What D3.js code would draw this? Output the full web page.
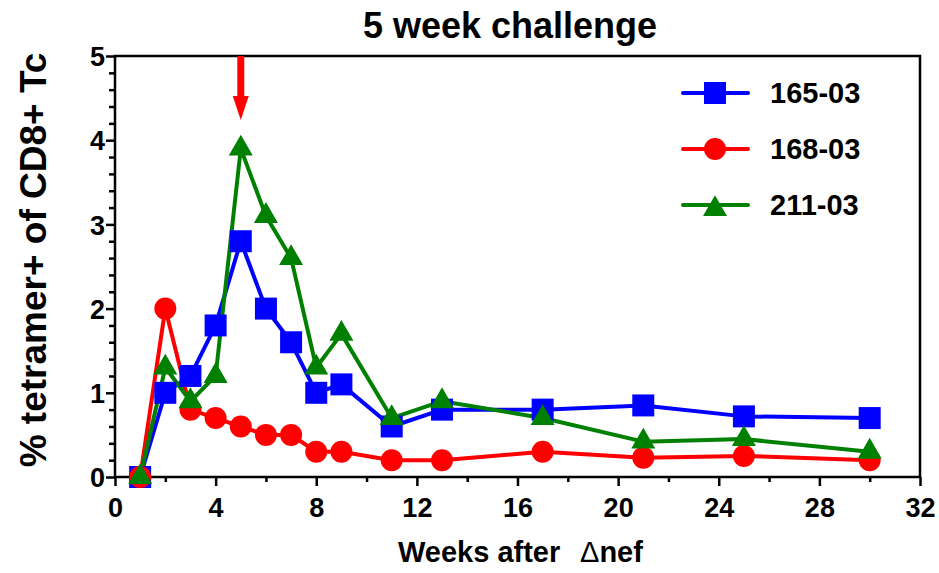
<!DOCTYPE html>
<html><head><meta charset="utf-8">
<script src="https://cdn.jsdelivr.net/npm/d3@7"></script>
<style>body{margin:0;background:#fff}svg{display:block;font-family:"Liberation Sans",Arial,sans-serif;font-weight:bold}</style>
</head><body><svg id="c" width="939" height="573"></svg>
<script>
const weeks = [1,2,3,4,5,6,7,8,9,11,13,17,21,25,30];
const s165 = [0,1.0,1.2,1.8,2.8,2.0,1.6,1.0,1.1,0.6,0.8,0.8,0.85,0.72,0.7];
const s168 = [0,2.0,0.8,0.7,0.6,0.5,0.5,0.3,0.3,0.2,0.2,0.3,0.23,0.25,0.2];
const s211 = [0,1.3,0.9,1.2,3.9,3.1,2.6,1.3,1.7,0.7,0.9,0.7,0.42,0.45,0.3];
const seriesNames = ["165-03","168-03","211-03"];
const seriesColors = ["#0000ff","#ff0000","#008000"];
const seriesSymbols = [d3.symbolSquare, d3.symbolCircle, d3.symbolTriangle];
const xTicks = [0,4,8,12,16,20,24,28,32];
const yTicks = [0,1,2,3,4,5];
const challengeWeek = 5;

const svg = d3.select("#c");
const L=115,R=920,T=56,B=477;
const x = d3.scaleLinear().domain([0,32]).range([L,R]);
const y = d3.scaleLinear().domain([0,5]).range([B,T]);

// frame
svg.append("rect").attr("x",L).attr("y",T).attr("width",R-L).attr("height",B-T)
  .attr("fill","none").attr("stroke","#000").attr("stroke-width",2.5);

// x axis
const xa = svg.append("g").attr("transform",`translate(0,${B})`)
  .call(d3.axisBottom(x).tickValues(d3.range(0,33,2)).tickSize(9)
    .tickFormat(d=>xTicks.includes(d)?d:""));
xa.select(".domain").remove();
xa.selectAll(".tick").each(function(d){
  d3.select(this).select("line").attr("y2",xTicks.includes(d)?9:5);
});
xa.selectAll("line").attr("stroke","#000").attr("stroke-width",2.5);
xa.selectAll("text").attr("font-size",27).attr("font-family","Liberation Sans, Arial").attr("font-weight","bold").attr("dy","0").attr("y",40).attr("fill","#000");

// y axis
const ya = svg.append("g").attr("transform",`translate(${L},0)`)
  .call(d3.axisLeft(y).tickValues(d3.range(0,5.01,0.2).map(v=>Math.round(v*10)/10)).tickSize(8)
    .tickFormat(d=>yTicks.includes(d)?d:""));
ya.select(".domain").remove();
ya.selectAll(".tick").each(function(d){
  d3.select(this).select("line").attr("x2",yTicks.includes(d)?-9:-6);
});
ya.selectAll("line").attr("stroke","#000").attr("stroke-width",2.5);
ya.selectAll("text").attr("font-size",27).attr("font-family","Liberation Sans, Arial").attr("font-weight","bold").attr("x",-10).attr("dy","0.36em").attr("fill","#000");

// series
const allSeries = [s165,s168,s211];
const symSizes = [484,380,250];
const line = d3.line().x(d=>x(d[0])).y(d=>y(d[1]));
allSeries.forEach((s,i)=>{
  const pts = weeks.map((w,j)=>[w,s[j]]);
  svg.append("path").datum(pts).attr("d",line).attr("fill","none")
    .attr("stroke",seriesColors[i]).attr("stroke-width",4).attr("stroke-linejoin","round");
});
allSeries.forEach((s,i)=>{
  const pts = weeks.map((w,j)=>[w,s[j]]);
  svg.append("g").selectAll("path").data(pts).join("path")
    .attr("d",d3.symbol().type(seriesSymbols[i]).size(symSizes[i]))
    .attr("transform",d=>`translate(${x(d[0])},${y(d[1])})`)
    .attr("fill",seriesColors[i]);
});

// arrow
const ax = x(challengeWeek);
svg.append("rect").attr("x",ax-3.5).attr("y",T).attr("width",7).attr("height",42).attr("fill","#ff0000");
svg.append("path").attr("d",`M${ax-8},${T+40} L${ax+8},${T+40} L${ax},${T+64} Z`).attr("fill","#ff0000");

// legend
const ly=[93,149,205];
seriesNames.forEach((n,i)=>{
  const g = svg.append("g");
  g.append("line").attr("x1",683).attr("x2",748).attr("y1",ly[i]).attr("y2",ly[i])
    .attr("stroke",seriesColors[i]).attr("stroke-width",4).attr("stroke-linecap","round");
  g.append("path").attr("d",d3.symbol().type(seriesSymbols[i]).size(symSizes[i])())
    .attr("transform",`translate(715,${ly[i] + (i===2?4:0)})`).attr("fill",seriesColors[i]);
  g.append("text").attr("x",770).attr("y",ly[i]).attr("dy","0.36em").attr("font-size",29).text(n);
});

// titles
svg.append("text").attr("x",510).attr("y",38).attr("text-anchor","middle").attr("font-size",36).text("5 week challenge");
const xt = svg.append("text").attr("y",562).attr("font-size",29);
xt.append("tspan").attr("x",398).text("Weeks after");
xt.append("tspan").attr("x",580).attr("font-weight","normal").text("\u0394");
xt.append("tspan").text("nef");
svg.append("text").attr("transform",`translate(46,260) rotate(-90)`).attr("text-anchor","middle").attr("font-size",37).text("% tetramer+ of CD8+ Tc");
</script></body></html>
